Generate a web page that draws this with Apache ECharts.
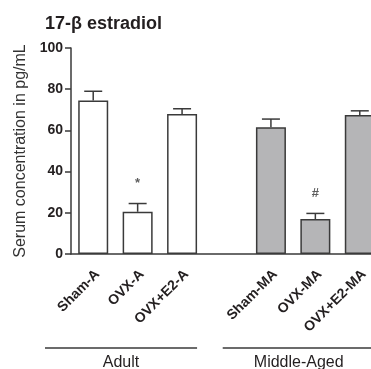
<!DOCTYPE html>
<html>
<head>
<meta charset="utf-8">
<script src="https://cdn.jsdelivr.net/npm/echarts@6/dist/echarts.min.js"></script>
<style>html,body{margin:0;padding:0;background:#fff;}#c{width:371px;height:369px;}</style>
</head>
<body>
<div id="c"></div>
<script>
const categories = ['Sham-A', 'OVX-A', 'OVX+E2-A', '', 'Sham-MA', 'OVX-MA', 'OVX+E2-MA'];
const meanValues = [74.5, 20.5, 68, null, 61.5, 17, 67.5];
const errValues = [4.5, 4, 2.5, null, 4, 2.7, 2];
const sigLabels = ['', '*', '', '', '', '#', ''];
const sigValues = [null, 34.5, null, null, null, 29.6, null];
const yMin = 0, yMax = 100, yStep = 20;
const groupNames = ['Adult', 'Middle-Aged'];
const groupFrom = [0, 4];
const groupTo = [2, 6];

const FONT = '"Liberation Sans", Arial, Helvetica, sans-serif';
const INK = '#231f20';
const groupFill = ['#ffffff', '#b5b5b7'];
function groupOf(i) {
  for (let g = 0; g < groupNames.length; g++) if (i >= groupFrom[g] && i <= groupTo[g]) return g;
  return 0;
}

const chart = echarts.init(document.getElementById('c'), null, {renderer: 'canvas'});
const option = {
  animation: false,
  backgroundColor: '#fff',
  title: {
    text: '17-β estradiol', left: 40, top: 10,
    textStyle: {fontFamily: FONT, fontSize: 18, fontWeight: 'bold', color: INK}
  },
  grid: {left: 71, top: 48, width: 311, height: 206, outerBoundsMode: 'none'},
  xAxis: {
    type: 'category', data: categories, boundaryGap: true,
    axisLine: {lineStyle: {color: '#3a3a3a', width: 1.5}},
    axisTick: {alignWithLabel: true, length: 7, interval: 0, lineStyle: {color: '#3a3a3a', width: 1.5}},
    axisLabel: {
      interval: 0, rotate: 45, margin: 14, verticalAlign: 'top', lineHeight: 12,
      fontFamily: FONT, fontSize: 14, fontWeight: 'bold', color: INK
    },
    splitLine: {show: false}
  },
  yAxis: {
    type: 'value', min: yMin, max: yMax, interval: yStep,
    name: 'Serum concentration in pg/mL', nameLocation: 'middle', nameGap: 42, nameRotate: 90,
    nameTextStyle: {fontFamily: FONT, fontSize: 16, color: '#333'},
    axisLine: {show: true, lineStyle: {color: '#3a3a3a', width: 1.5}},
    axisTick: {show: true, length: 6, lineStyle: {color: '#3a3a3a', width: 1.5}},
    axisLabel: {margin: 8, fontFamily: FONT, fontSize: 14, fontWeight: 'bold', color: INK},
    splitLine: {show: false}
  },
  series: [
    {
      type: 'bar', barWidth: 30,
      data: meanValues.map((v, i) => v == null ? null : {
        value: v,
        itemStyle: {color: groupFill[groupOf(i)], borderColor: '#3a3a3a', borderWidth: 1.5}
      }),
      z: 2
    },
    {
      type: 'custom',
      data: meanValues.map((v, i) => v == null ? null : [i, v, errValues[i]]).filter(d => d),
      encode: {x: 0, y: 1},
      renderItem: function (params, api) {
        const x = api.value(0), v = api.value(1), e = api.value(2);
        const base = api.coord([x, v]);
        const top = api.coord([x, v + e]);
        const hw = 9;
        const st = {stroke: '#3a3a3a', lineWidth: 1.5};
        return {type: 'group', children: [
          {type: 'line', shape: {x1: base[0], y1: base[1], x2: top[0], y2: top[1]}, style: st},
          {type: 'line', shape: {x1: top[0] - hw, y1: top[1], x2: top[0] + hw, y2: top[1]}, style: st}
        ]};
      },
      z: 3
    },
    {
      type: 'scatter', symbolSize: 0,
      data: sigValues.map((v, i) => v == null ? null : [i, v]).filter(d => d),
      label: {
        show: true, position: 'inside',
        formatter: p => sigLabels[p.value[0]],
        fontFamily: FONT, fontSize: 13, fontWeight: 'bold', color: '#333'
      },
      z: 4
    }
  ]
};
chart.setOption(option);

function drawGroups() {
  const y0 = chart.convertToPixel({yAxisIndex: 0}, yMin);
  const c0 = chart.convertToPixel({xAxisIndex: 0}, 0);
  const c1 = chart.convertToPixel({xAxisIndex: 0}, 1);
  const band = c1 - c0;
  const lineY = y0 + 94;
  const textY = y0 + 108.5;
  const graphics = [];
  for (let g = 0; g < groupNames.length; g++) {
    const xs = chart.convertToPixel({xAxisIndex: 0}, groupFrom[g]) - band * 0.5 - 26;
    const xe = chart.convertToPixel({xAxisIndex: 0}, groupTo[g]) + 15;
    graphics.push({type: 'line', shape: {x1: xs, y1: lineY, x2: xe, y2: lineY},
      style: {stroke: '#3a3a3a', lineWidth: 1.5}, silent: true});
    graphics.push({type: 'text', x: (xs + xe) / 2, y: textY,
      style: {text: groupNames[g], fill: INK, font: '16px ' + FONT, textAlign: 'center', textVerticalAlign: 'middle'}, silent: true});
  }
  chart.setOption({graphic: graphics});
}
drawGroups();
</script>
</body>
</html>
